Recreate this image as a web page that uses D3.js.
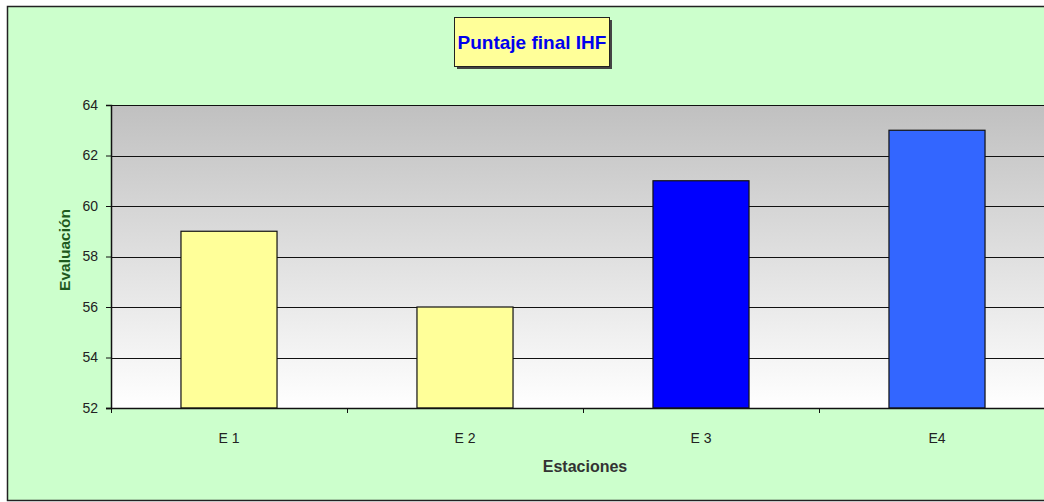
<!DOCTYPE html>
<html>
<head>
<meta charset="utf-8">
<script src="https://cdn.jsdelivr.net/npm/d3@7"></script>
<style>
  body { margin: 0; background: #fff; }
  svg { display: block; font-family: "Liberation Sans", Arial, sans-serif; }
</style>
</head>
<body>
<div id="chart"></div>
<script>
// data
const stations = ["E 1", "E 2", "E 3", "E4"];
const scores = [59, 56, 61, 63];
const barColors = ["#ffff99", "#ffff99", "#0000ff", "#3366ff"];
const yTicks = [52, 54, 56, 58, 60, 62, 64];

const width = 1044, height = 502;
const plot = { left: 111, top: 105, right: 1055, bottom: 408 };

const svg = d3.select("#chart").append("svg")
    .attr("width", width)
    .attr("height", height);

// chart background + outer frame
svg.append("rect")
    .attr("x", 7.5).attr("y", 6.5)
    .attr("width", width + 20).attr("height", 494)
    .attr("fill", "#ccffcc")
    .attr("stroke", "#222")
    .attr("stroke-width", 1.5);

const defs = svg.append("defs");
const grad = defs.append("linearGradient")
    .attr("id", "plotGrad")
    .attr("x1", 0).attr("y1", 0).attr("x2", 0).attr("y2", 1);
grad.append("stop").attr("offset", "0%").attr("stop-color", "#c0c0c0");
grad.append("stop").attr("offset", "100%").attr("stop-color", "#ffffff");

const x = d3.scaleBand()
    .domain(stations)
    .range([plot.left, plot.right])
    .paddingInner(0.593)
    .paddingOuter(0.2965);

const y = d3.scaleLinear()
    .domain([52, 64])
    .range([plot.bottom, plot.top]);

// plot area
svg.append("rect")
    .attr("x", plot.left).attr("y", plot.top)
    .attr("width", plot.right - plot.left)
    .attr("height", plot.bottom - plot.top)
    .attr("fill", "url(#plotGrad)");

// gridlines
svg.append("g")
    .selectAll("line")
    .data(yTicks.slice(1))
    .join("line")
    .attr("x1", plot.left).attr("x2", plot.right)
    .attr("y1", d => Math.round(y(d)) + 0.5)
    .attr("y2", d => Math.round(y(d)) + 0.5)
    .attr("stroke", "#111")
    .attr("stroke-width", 1.2);

// bars
svg.append("g")
    .selectAll("rect")
    .data(scores)
    .join("rect")
    .attr("x", (d, i) => x(stations[i]))
    .attr("y", d => y(d))
    .attr("width", x.bandwidth())
    .attr("height", d => y(52) - y(d))
    .attr("fill", (d, i) => barColors[i])
    .attr("stroke", "#111")
    .attr("stroke-width", 1.2);

// y axis
const yAxis = svg.append("g")
    .attr("transform", `translate(${plot.left},0)`)
    .call(d3.axisLeft(y).tickValues(yTicks).tickSize(5).tickPadding(8));
yAxis.select(".domain").attr("stroke", "#111").attr("stroke-width", 1.5);
yAxis.selectAll(".tick line").attr("stroke", "#111");
yAxis.selectAll("text").attr("font-size", 14).attr("fill", "#222")
    .attr("font-family", "Liberation Sans, Arial, sans-serif");

// x axis with category boundary ticks
const xAxisG = svg.append("g")
    .attr("transform", `translate(0,${plot.bottom})`);
xAxisG.append("line")
    .attr("x1", plot.left - 5).attr("x2", plot.right)
    .attr("y1", 0.5).attr("y2", 0.5)
    .attr("stroke", "#111").attr("stroke-width", 1.5);
const step = x.step();
xAxisG.selectAll("line.tk")
    .data(d3.range(stations.length + 1))
    .join("line")
    .attr("class", "tk")
    .attr("x1", i => plot.left + i * step + 0.5)
    .attr("x2", i => plot.left + i * step + 0.5)
    .attr("y1", 0).attr("y2", 5)
    .attr("stroke", "#111");
xAxisG.selectAll("text")
    .data(stations)
    .join("text")
    .attr("x", d => x(d) + x.bandwidth() / 2)
    .attr("y", 35)
    .attr("text-anchor", "middle")
    .attr("font-size", 14)
    .attr("fill", "#222")
    .text(d => d);

// axis titles
svg.append("text")
    .attr("transform", "translate(70,250) rotate(-90)")
    .attr("text-anchor", "middle")
    .attr("font-size", 15.5)
    .attr("font-weight", "bold")
    .attr("fill", "#1e5a1e")
    .text("Evaluación");

svg.append("text")
    .attr("x", 585).attr("y", 472)
    .attr("text-anchor", "middle")
    .attr("font-size", 16)
    .attr("font-weight", "bold")
    .attr("fill", "#333")
    .text("Estaciones");

// title box
svg.append("rect")
    .attr("x", 457).attr("y", 20)
    .attr("width", 155).attr("height", 49)
    .attr("fill", "#444");
svg.append("rect")
    .attr("x", 454.5).attr("y", 17.5)
    .attr("width", 155).attr("height", 49)
    .attr("fill", "#ffff99")
    .attr("stroke", "#222")
    .attr("stroke-width", 1);
svg.append("text")
    .attr("x", 532).attr("y", 49)
    .attr("text-anchor", "middle")
    .attr("font-size", 19)
    .attr("font-weight", "bold")
    .attr("fill", "#0000ee")
    .attr("font-family", "Liberation Sans Narrow, Arial Narrow, Liberation Sans, sans-serif")
    .text("Puntaje final IHF");
</script>
</body>
</html>
